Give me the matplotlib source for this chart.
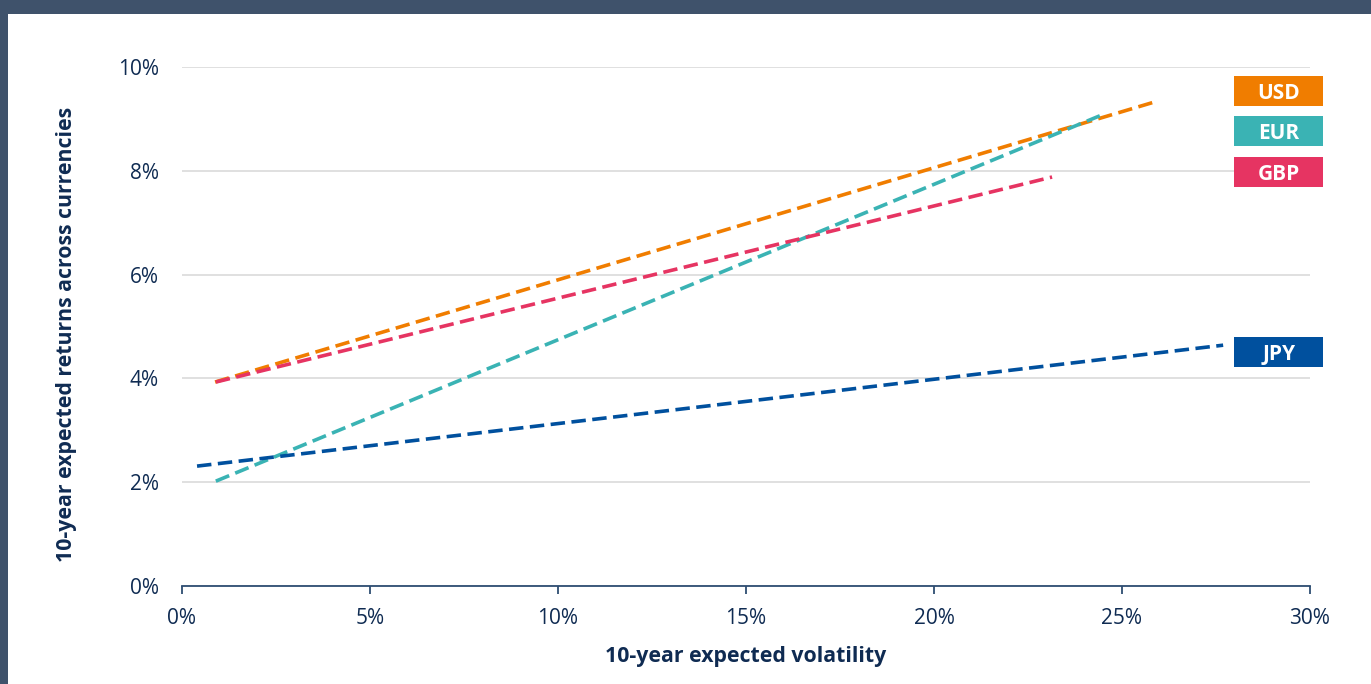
#!/usr/bin/env python3
"""
Expected return vs expected volatility across currencies.
"""

import matplotlib
matplotlib.use("Agg")
import matplotlib.pyplot as plt
import matplotlib.transforms as mtransforms
from matplotlib.patches import Rectangle

plt.rcParams["font.family"] = ["Open Sans", "DejaVu Sans"]

# data: start / end points of each line (volatility %, return %)
currencies = ["USD", "EUR", "GBP", "JPY"]
vol_start = [0.88, 0.90, 0.90, 0.40]
vol_end = [25.93, 24.41, 23.14, 27.69]
ret_start = [3.93, 2.02, 3.93, 2.31]
ret_end = [9.34, 9.06, 7.88, 4.64]
label_y = [9.54, 8.77, 7.98, 4.51]

x_ticks = [0, 5, 10, 15, 20, 25, 30]
y_ticks = [0, 2, 4, 6, 8, 10]

colors = {"USD": "#F07D00", "EUR": "#3AB3B4", "GBP": "#E63462", "JPY": "#00509E"}
navy = "#0F2B52"

fig = plt.figure(figsize=(13.71, 6.84), dpi=100)
fig.patch.set_facecolor("#3F526B")
# white panel
fig.add_artist(Rectangle((8 / 1371, 0), 1.0, 1 - 14 / 684, transform=fig.transFigure,
                         facecolor="white", edgecolor="none", zorder=0))

ax = fig.add_axes([182 / 1371, 1 - 586 / 684, 1128 / 1371, (586 - 67) / 684])
ax.set_facecolor("none")

for name, x0, x1, y0, y1 in zip(currencies, vol_start, vol_end, ret_start, ret_end):
    ax.plot([x0, x1], [y0, y1], color=colors[name], lw=2.6, dashes=(4, 1.8),
            solid_capstyle="butt", dash_capstyle="butt", zorder=3)

# label boxes on the right
trans = mtransforms.blended_transform_factory(ax.transAxes, ax.transData)
box_w = 89 / 1128
box_h = 30 / 51.9
for name, ly in zip(currencies, label_y):
    ax.add_patch(Rectangle((0.933, ly - box_h / 2), box_w, box_h, transform=trans,
                           facecolor=colors[name], edgecolor="none", clip_on=False, zorder=4))
    ax.text(0.933 + box_w / 2, ly, name, transform=trans, ha="center", va="center_baseline",
            color="white", fontsize=15, fontweight="bold", zorder=5)

ax.set_xlim(0, 30)
ax.set_ylim(0, 10)
ax.set_xticks(x_ticks)
ax.set_yticks(y_ticks)
ax.set_xticklabels([f"{t}%" for t in x_ticks])
ax.set_yticklabels([f"{t}%" for t in y_ticks])
ax.yaxis.grid(True, color="#DDDDDD", lw=1.3)
ax.set_axisbelow(True)

for side in ["left", "right", "top"]:
    ax.spines[side].set_visible(False)
ax.spines["bottom"].set_color("#2E4D72")
ax.spines["bottom"].set_linewidth(1.3)
ax.tick_params(axis="x", direction="out", length=6, width=1.3, color="#2E4D72",
               labelsize=15, labelcolor=navy, pad=10)
ax.tick_params(axis="y", length=0, labelsize=15, labelcolor=navy, pad=16.5)

ax.set_xlabel("10-year expected volatility", fontsize=15.3, fontweight="bold", color=navy, labelpad=12)
ax.set_ylabel("10-year expected returns across currencies", fontsize=15.3, fontweight="bold",
              color=navy)
ax.yaxis.set_label_coords(-0.093, 0.484)

fig.savefig("out.png", dpi=100, facecolor=fig.get_facecolor())
